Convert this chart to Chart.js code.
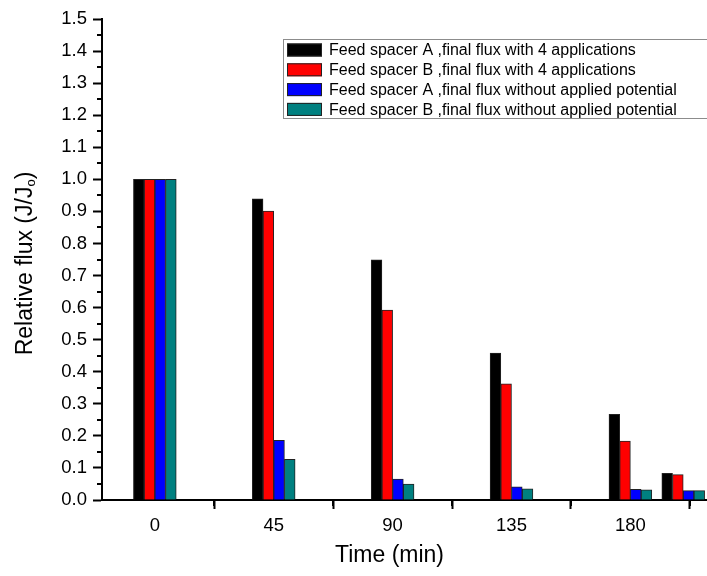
<!DOCTYPE html>
<html>
<head>
<meta charset="utf-8">
<script src="https://cdn.jsdelivr.net/npm/chart.js@4.4.0/dist/chart.umd.min.js"></script>
<style>
  html, body { margin: 0; padding: 0; background: #fff; }
</style>
</head>
<body>
<canvas id="fluxChart" width="707" height="576"></canvas>
<script>
// sampling times (min) and relative flux J/Jo per run
const times = [0, 45, 90, 135, 180, 200];
const timeTicks = [0, 45, 90, 135, 180];
const fluxTicks = [0, 0.1, 0.2, 0.3, 0.4, 0.5, 0.6, 0.7, 0.8, 0.9, 1.0, 1.1, 1.2, 1.3, 1.4, 1.5];

const spacerA_applied = [1.0, 0.939, 0.749, 0.458, 0.267, 0.083];
const spacerB_applied = [1.0, 0.901, 0.592, 0.362, 0.184, 0.079];
const spacerA_none = [1.0, 0.186, 0.065, 0.041, 0.033, 0.029];
const spacerB_none = [1.0, 0.127, 0.050, 0.035, 0.032, 0.029];

const seriesLabels = [
    'Feed spacer A ,final flux with 4 applications',
    'Feed spacer B ,final flux with 4 applications',
    'Feed spacer A ,final flux without applied potential',
    'Feed spacer B ,final flux without applied potential'
];
const seriesColors = ['#000000', '#ff0000', '#0000ff', '#008080'];

const FONT = 'Arial, "Liberation Sans", sans-serif';

// minor ticks, axis titles and the framed legend
const extras = {
    id: 'extras',
    afterDraw(chart) {
        const { ctx, chartArea: area, scales: { x, y } } = chart;
        ctx.save();

        ctx.strokeStyle = '#000';
        ctx.lineWidth = 2;
        ctx.beginPath();
        for (let i = 0; i < fluxTicks.length - 1; i++) {
            const py = Math.round(y.getPixelForValue((fluxTicks[i] + fluxTicks[i + 1]) / 2));
            ctx.moveTo(area.left - 5, py);
            ctx.lineTo(area.left, py);
        }
        for (let v = timeTicks[0] - 22.5; v <= x.max; v += 45) {
            if (v < x.min) continue;
            const px = Math.round(x.getPixelForValue(v));
            ctx.moveTo(px, area.bottom);
            ctx.lineTo(px, area.bottom + 6);
        }
        ctx.stroke();

        // x title
        ctx.fillStyle = '#000';
        ctx.font = '23px ' + FONT;
        ctx.textAlign = 'center';
        ctx.textBaseline = 'alphabetic';
        ctx.fillText('Time (min)', (area.left + area.right) / 2 - 15, 562);

        // y title with subscript o
        ctx.save();
        ctx.translate(24, (area.top + area.bottom) / 2 + 4);
        ctx.rotate(-Math.PI / 2);
        ctx.textAlign = 'left';
        const main = 'Relative flux (J/J';
        ctx.font = '23px ' + FONT;
        const wMain = ctx.measureText(main).width;
        const wClose = ctx.measureText(')').width;
        ctx.font = '13px ' + FONT;
        const wSub = ctx.measureText('o').width;
        let tx = -(wMain + wSub + wClose) / 2;
        ctx.font = '23px ' + FONT;
        ctx.fillText(main, tx, 8);
        tx += wMain;
        ctx.font = '13px ' + FONT;
        ctx.fillText('o', tx, 11);
        tx += wSub;
        ctx.font = '23px ' + FONT;
        ctx.fillText(')', tx, 8);
        ctx.restore();

        // legend
        ctx.strokeStyle = '#8c8c8c';
        ctx.lineWidth = 1;
        ctx.strokeRect(283.5, 39.5, 440, 79);
        ctx.font = '16px ' + FONT;
        ctx.textAlign = 'left';
        ctx.textBaseline = 'middle';
        chart.data.datasets.forEach((ds, i) => {
            const cy = 50 + i * 19.8;
            ctx.fillStyle = ds.backgroundColor;
            ctx.fillRect(287, cy - 6.5, 35, 13);
            ctx.strokeStyle = '#222';
            ctx.strokeRect(287.5, cy - 6, 34, 12);
            ctx.fillStyle = '#000';
            ctx.fillText(ds.label, 329, cy + 1);
        });

        ctx.restore();
    }
};

const ctx = document.getElementById('fluxChart').getContext('2d');
const values = [spacerA_applied, spacerB_applied, spacerA_none, spacerB_none];

new Chart(ctx, {
    type: 'bar',
    data: {
        datasets: values.map((vals, i) => ({
            label: seriesLabels[i],
            data: times.map((t, j) => ({ x: t, y: vals[j] })),
            backgroundColor: seriesColors[i],
            borderColor: '#222',
            borderWidth: 1,
            barThickness: 10.7
        }))
    },
    options: {
        responsive: false,
        animation: false,
        devicePixelRatio: 1,
        layout: { padding: { top: 19, right: 0, bottom: 0, left: 0 } },
        plugins: { legend: { display: false }, tooltip: { enabled: false } },
        scales: {
            x: {
                type: 'linear',
                min: -20,
                max: 209,
                offset: false,
                afterBuildTicks: s => { s.ticks = timeTicks.map(v => ({ value: v })); },
                afterFit: s => { s.height = 76; },
                grid: { drawOnChartArea: false, drawTicks: true, tickLength: 9, tickWidth: 2, tickColor: '#000' },
                border: { display: true, color: '#000', width: 2 },
                ticks: { color: '#000', padding: 6, maxRotation: 0, font: { family: FONT, size: 18.5 } }
            },
            y: {
                min: 0,
                max: 1.5,
                afterBuildTicks: s => { s.ticks = fluxTicks.map(v => ({ value: v })); },
                afterFit: s => { s.width = 102; },
                grid: { drawOnChartArea: false, drawTicks: true, tickLength: 9, tickWidth: 2, tickColor: '#000' },
                border: { display: true, color: '#000', width: 2 },
                ticks: { color: '#000', padding: 6, font: { family: FONT, size: 18.5 }, callback: v => v.toFixed(1) }
            }
        }
    },
    plugins: [extras]
});
</script>
</body>
</html>
